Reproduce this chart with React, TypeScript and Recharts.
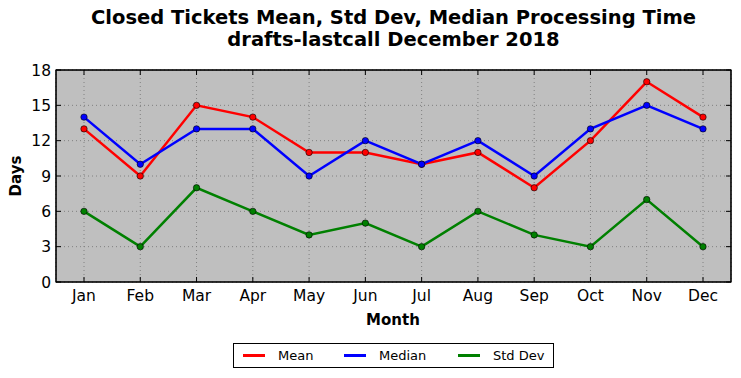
import { LineChart, Line, XAxis, YAxis, CartesianGrid } from 'recharts';

const months = ['Jan', 'Feb', 'Mar', 'Apr', 'May', 'Jun', 'Jul', 'Aug', 'Sep', 'Oct', 'Nov', 'Dec'];
const meanDays = [13, 9, 15, 14, 11, 11, 10, 11, 8, 12, 17, 14];
const medianDays = [14, 10, 13, 13, 9, 12, 10, 12, 9, 13, 15, 13];
const stdDevDays = [6, 3, 8, 6, 4, 5, 3, 6, 4, 3, 7, 3];
const yTicks = [0, 3, 6, 9, 12, 15, 18];

// std dev is bound to the top/right axes (same scales) so the frame ticks get drawn
const series = [
  { key: 'mean', name: 'Mean', color: '#ff0000', x: 0, y: 0 },
  { key: 'median', name: 'Median', color: '#0000ff', x: 0, y: 0 },
  { key: 'std', name: 'Std Dev', color: '#008000', x: 'top', y: 'right' },
];

const data = months.map((month, i) => ({
  month,
  mean: meanDays[i],
  median: medianDays[i],
  std: stdDevDays[i],
}));

const FONT = '"DejaVu Sans", sans-serif';
const noLabel = () => <g />;

// plot area box (matches chart margins below)
const PLOT = { left: 56, top: 70, width: 675, height: 212 };

export default function App() {
  return (
    <div style={{ position: 'absolute', left: 0, top: 0, width: 741, height: 378, background: '#fff', fontFamily: FONT }}>
      <div style={{ position: 'absolute', left: 0, width: 787, top: 7, textAlign: 'center', fontWeight: 'bold', fontSize: 19.5, lineHeight: '22px', color: '#000' }}>
        Closed Tickets Mean, Std Dev, Median Processing Time<br />drafts-lastcall December 2018
      </div>
      <LineChart width={741} height={378} data={data} margin={{ top: 69, right: 9, bottom: 46, left: 0 }}>
        <CartesianGrid fill="#bfbfbf" stroke="#808080" strokeDasharray="1 3" />
        <XAxis
          dataKey="month"
          padding={{ left: 28, right: 28 }}
          height={50}
          stroke="#000"
          tickSize={-5}
          tickMargin={13}
          tick={{ fill: '#000', fontSize: 15.5, fontFamily: FONT }}
        />
        <XAxis xAxisId="top" dataKey="month" orientation="top" height={1} padding={{ left: 28, right: 28 }} stroke="#000" tickSize={-5} tick={noLabel} />
        <YAxis
          domain={[0, 18]}
          ticks={yTicks}
          width={56}
          stroke="#000"
          tickSize={-5}
          tickMargin={10}
          interval={0}
          tick={{ fill: '#000', fontSize: 15.5, fontFamily: FONT }}
        />
        <YAxis yAxisId="right" orientation="right" domain={[0, 18]} ticks={yTicks} interval={0} width={1} stroke="#000" tickSize={-5} tick={noLabel} />
        {series.map((s) => (
          <Line
            key={s.key}
            xAxisId={s.x}
            yAxisId={s.y}
            type="linear"
            dataKey={s.key}
            name={s.name}
            stroke={s.color}
            strokeWidth={2.5}
            dot={{ r: 3.2, fill: s.color, stroke: '#000', strokeWidth: 0.6 }}
            isAnimationActive={false}
          />
        ))}
      </LineChart>
      <svg width={741} height={378} style={{ position: 'absolute', left: 0, top: 0, pointerEvents: 'none' }}>
        <rect x={PLOT.left} y={PLOT.top} width={PLOT.width} height={PLOT.height} fill="none" stroke="#000" strokeWidth={1.2} />
      </svg>
      <div style={{ position: 'absolute', left: 393 - 40, width: 80, top: 311, textAlign: 'center', fontWeight: 'bold', fontSize: 15 }}>Month</div>
      <div style={{ position: 'absolute', left: 16 - 30, top: 176 - 10, width: 60, height: 20, lineHeight: '20px', textAlign: 'center', fontWeight: 'bold', fontSize: 15, transform: 'rotate(-90deg)' }}>Days</div>
      <div style={{ position: 'absolute', left: 233, top: 343, width: 319, height: 23, border: '1px solid #000', fontSize: 13, display: 'flex', alignItems: 'center' }}>
        {series.map((s, i) => (
          <div key={s.key} style={{ position: 'absolute', left: [9, 110, 224][i], top: 0, height: 23, display: 'flex', alignItems: 'center' }}>
            <span style={{ display: 'inline-block', width: 22, height: 3, background: s.color }} />
            <span style={{ marginLeft: 13 }}>{s.name}</span>
          </div>
        ))}
      </div>
    </div>
  );
}
